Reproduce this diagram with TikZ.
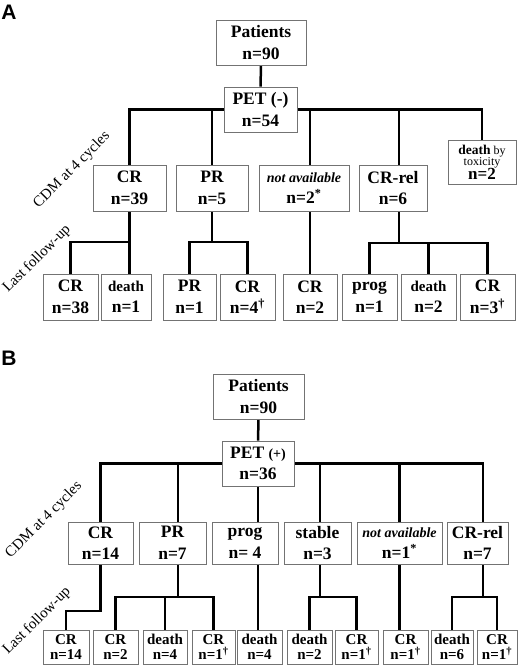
\documentclass[tikz,border=0pt]{standalone}
\usepackage{fontspec}
\setmainfont{Liberation Serif}
\newfontfamily\labfont{Liberation Sans}
\pgfdeclarelayer{edges}
\pgfsetlayers{edges,main}
\newcommand\fsz[1]{\fontsize{#1}{#1}\selectfont}
\newcommand\bx[7][]{\node[box,#1,minimum width={(#5)-(#3)},minimum height={(#6)-(#4)}] (#2) at ({((#3)+(#5))/2},{((#4)+(#6))/2}) {#7};}
\newcommand\dgr{\textsuperscript{†}}
\newcommand\astr{\textsuperscript{*}}
\tikzset{
  box/.style={draw=black!55, line width=0.8pt, fill=white, inner sep=1pt, align=center,
    font=\bfseries\fontsize{17.5}{21.5}\selectfont},
  sm/.style={font=\bfseries\fontsize{15}{15.5}\selectfont},
  conn/.style={line width=2.5pt, draw=black},
  rot/.style={rotate=45, inner sep=0pt, font=\fontsize{15}{15}\selectfont},
  panel/.style={inner sep=0pt, font=\labfont\bfseries\fontsize{21}{21}\selectfont}
}
\begin{document}
\begin{tikzpicture}[x=1pt,y=-1pt]
\useasboundingbox (0,0) rectangle (520,667);
% ---------- Panel A ----------
\node[panel] (LA) at (9,12.5) {A};
\bx{A1}{216}{20}{306}{65}{Patients\\n=90}
\bx{A2}{224}{87}{297}{132}{PET (-)\\n=54}
\bx{A3}{93}{165}{166}{211}{CR\\n=39}
\bx{A4}{176}{165}{248}{211}{PR\\n=5}
\bx{A5}{259}{165}{349}{211}{{\itshape\fsz{14}not available}\\n=2\astr}
\bx{A6}{359}{165}{427}{211}{CR-rel\\n=6}
\bx[font=\fontsize{12}{11.5}\selectfont]{A7}{448}{140}{516}{184}{{\bfseries\fsz{13.5}death} by\\toxicity\\[-1pt]{\bfseries\fsz{17}n=2}}
\bx{A8}{43}{274}{98}{320}{CR\\n=38}
\bx{A9}{101}{274}{151}{320}{{\fsz{15}death}\\n=1}
\bx{A10}{163}{274}{216}{320}{PR\\n=1}
\bx{A11}{220}{274}{275}{320}{CR\\n=4\dgr}
\bx{A12}{283}{274}{337}{320}{CR\\n=2}
\bx{A13}{342}{274}{397}{320}{prog\\n=1}
\bx{A14}{401}{274}{456}{320}{{\fsz{15}death}\\n=2}
\bx{A15}{460}{274}{515}{320}{CR\\n=3\dgr}
\node[rot] (cdmA) at (72,170) {CDM at 4 cycles};
\node[rot] (lfA) at (37,259) {Last follow-up};
% ---------- Panel B ----------
\node[panel] (LB) at (9,358) {B};
\bx{B1}{213}{374}{304}{419}{Patients\\n=90}
\bx{B2}{222}{441}{294}{486}{PET {\fsz{14}(+)}\\n=36}
\bx{B3}{68}{522}{133}{564}{CR\\n=14}
\bx{B4}{139}{522}{206}{564}{PR\\n=7}
\bx{B5}{212}{522}{278}{564}{prog\\n= 4}
\bx{B6}{284}{522}{351}{564}{stable\\n=3}
\bx{B7}{357}{522}{442}{564}{{\itshape\fsz{14}not available}\\n=1\astr}
\bx{B8}{447}{522}{508}{564}{CR-rel\\n=7}
\bx[sm]{B9}{43}{630}{89}{664}{CR\\n=14}
\bx[sm]{B10}{93}{630}{138}{664}{CR\\n=2}
\bx[sm]{B11}{143}{630}{187}{664}{death\\n=4}
\bx[sm]{B12}{192}{630}{235}{664}{CR\\n=1\dgr}
\bx[sm]{B13}{237}{630}{282}{664}{death\\n=4}
\bx[sm]{B14}{287}{630}{332}{664}{death\\n=2}
\bx[sm]{B15}{335}{630}{378}{664}{CR\\n=1\dgr}
\bx[sm]{B16}{383}{630}{428}{664}{CR\\n=1\dgr}
\bx[sm]{B17}{431}{630}{473}{664}{death\\n=6}
\bx[sm]{B18}{477}{630}{517}{664}{CR\\n=1\dgr}
\node[rot] (cdmB) at (44,520) {CDM at 4 cycles};
\node[rot] (lfB) at (37,621) {Last follow-up};
% ---------- connectors ----------
\begin{pgfonlayer}{edges}
\fill[white] (0,0) rectangle (520,667);
\coordinate (jA6) at (399,243);
\coordinate (lvA) at (0,242);
\draw[conn] (A1) -- (A2);
\draw[conn] (A3.north) |- (A2.west);
\draw[conn] (A7.north) |- (A2.east);
\draw[conn] (A4.north) -- (A4.north |- A2.west);
\draw[conn] (A12.north) -- (A12.north |- A2.east);
\draw[conn] (jA6) -- (jA6 |- A2.east);
\draw[conn] (A3.south) -- (A3.south |- A9.north);
\draw[conn] (A8.north) |- (A3.south |- lvA);
\draw[conn] (A4.south) -- (A4.south |- lvA);
\draw[conn] (A10.north) |- (A4.south |- lvA) -| (A11.north);
\draw[conn] (A13.north) |- (jA6) -| (A15.north);
\draw[conn] (A14.north) -- (A14.north |- jA6);
%
\coordinate (xB4) at (178,0);
\coordinate (xB6) at (320,0);
\coordinate (xB8) at (483,0);
\coordinate (lvB) at (0,597);
\coordinate (lvB3) at (0,611);
\draw[conn] (B1) -- (B2);
\draw[conn] (B3.north) |- (B2.west);
\draw[conn] (xB8 |- B8.north) |- (B2.east);
\draw[conn] (xB4 |- B4.north) -- (xB4 |- B2.west);
\draw[conn] (xB6 |- B6.north) -- (xB6 |- B2.east);
\draw[conn] (B7.north |- B16.north) -- (B7.north |- B2.east);
\draw[conn] (B2.south) -- (B2.south |- B13.north);
\draw[conn] (B3.south) -- (B3.south |- lvB3) -| (B9.north);
\draw[conn] (xB4 |- B4.south) -- (xB4 |- lvB);
\draw[conn] (B10.north) |- (xB4 |- lvB) -| (B12.north);
\draw[conn] (B11.north) -- (B11.north |- lvB);
\draw[conn] (xB6 |- B6.south) -- (xB6 |- lvB);
\draw[conn] (B14.north) |- (xB6 |- lvB) -| (B15.north);
\draw[conn] (xB8 |- B8.south) -- (xB8 |- lvB);
\draw[conn] (B17.north) |- (xB8 |- lvB) -| (B18.north);
\end{pgfonlayer}
\end{tikzpicture}
\end{document}
